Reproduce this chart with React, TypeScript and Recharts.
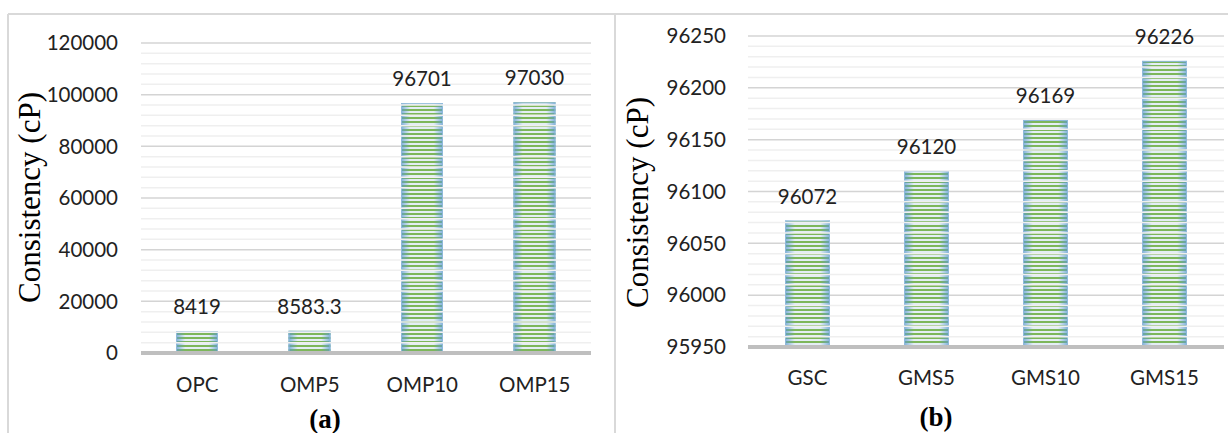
import React from 'react'
import { BarChart, Bar, XAxis, YAxis, CartesianGrid, ReferenceLine, LabelList } from 'recharts'

// panel (a)
const leftCategories = ['OPC', 'OMP5', 'OMP10', 'OMP15']
const leftValues = [8419, 8583.3, 96701, 97030]
const leftTicks = [0, 20000, 40000, 60000, 80000, 100000, 120000]

// panel (b)
const rightCategories = ['GSC', 'GMS5', 'GMS10', 'GMS15']
const rightValues = [96072, 96120, 96169, 96226]
const rightTicks = [95950, 96000, 96050, 96100, 96150, 96200, 96250]

const FONT = 'Lato, "Open Sans", sans-serif'
const SERIF = '"Liberation Serif", "Times New Roman", serif'

// light grid lines between the labelled ones (Excel minor gridlines)
const minorLines = (ticks: number[], parts: number) => {
  const out: number[] = []
  for (let i = 0; i < ticks.length - 1; i++) {
    const step = (ticks[i + 1] - ticks[i]) / parts
    for (let k = 1; k < parts; k++) out.push(ticks[i] + step * k)
  }
  return out
}

const makeStripedBar = (id: string) => (props: any) => {
  const { x, y, width, height } = props
  if (!height || height <= 0) return <g />
  return (
    <g>
      <rect x={x} y={y} width={width} height={height} fill={`url(#${id}-stripes)`} />
      <rect x={x} y={y} width={width} height={height} fill={`url(#${id}-edge)`} />
      <rect x={x + 0.5} y={y + 0.5} width={width - 1} height={height - 1} fill="none" stroke="#8fb9da" strokeWidth={1} />
    </g>
  )
}

type PanelProps = {
  id: string
  categories: string[]
  values: number[]
  ticks: number[]
  minorParts: number
  width: number
  yAxisWidth: number
  tickMargin: number
  xTickMargin: number
  barSize: number
  margin: { top: number; right: number; bottom: number; left: number }
}

function Panel(p: PanelProps) {
  const data = p.categories.map((name, i) => ({ name, value: p.values[i] }))
  const minors = minorLines(p.ticks, p.minorParts)
  const Shape = makeStripedBar(p.id)
  return (
    <BarChart width={p.width} height={433} data={data} margin={p.margin} barSize={p.barSize}>
      <defs>
        <pattern id={`${p.id}-stripes`} patternUnits="userSpaceOnUse" width={4} height={4}>
          <rect x={0} y={0} width={4} height={4} fill="#e4eef5" />
          <rect x={0} y={1} width={4} height={2} fill="#7db75a" />
        </pattern>
        <linearGradient id={`${p.id}-edge`} x1="0" y1="0" x2="1" y2="0">
          <stop offset="0%" stopColor="#5d9bcf" stopOpacity={0.75} />
          <stop offset="22%" stopColor="#5d9bcf" stopOpacity={0} />
          <stop offset="78%" stopColor="#5d9bcf" stopOpacity={0} />
          <stop offset="100%" stopColor="#5d9bcf" stopOpacity={0.75} />
        </linearGradient>
      </defs>
      <CartesianGrid vertical={false} stroke="#d4d4d4" strokeWidth={1.5} />
      {minors.map((v) => (
        <ReferenceLine key={v} y={v} stroke="#efefef" strokeWidth={1.5} />
      ))}
      <XAxis
        dataKey="name"
        height={30}
        tickLine={false}
        tickSize={0}
        tickMargin={p.xTickMargin}
        axisLine={{ stroke: '#bfbfbf', strokeWidth: 4 }}
        tick={{ fill: '#222', fontSize: 20.5, fontFamily: FONT }}
      />
      <YAxis
        width={p.yAxisWidth}
        domain={[p.ticks[0], p.ticks[p.ticks.length - 1]]}
        ticks={p.ticks}
        interval={0}
        allowDataOverflow
        axisLine={false}
        tickLine={false}
        tickSize={0}
        tickMargin={p.tickMargin}
        tick={{ fill: '#222', fontSize: 20.5, fontFamily: FONT }}
      />
      <Bar dataKey="value" shape={Shape} isAnimationActive={false}>
        <LabelList dataKey="value" position="top" offset={17} fill="#222" fontSize={20.5} fontFamily={FONT} />
      </Bar>
    </BarChart>
  )
}

export default function App() {
  return (
    <div style={{ position: 'absolute', left: 0, top: 0, width: 1228, height: 433, background: '#fff', overflow: 'hidden' }}>
      <div style={{ position: 'absolute', left: 0, top: 0 }}>
        <Panel
          id="pa"
          categories={leftCategories}
          values={leftValues}
          ticks={leftTicks}
          minorParts={5}
          width={600}
          yAxisWidth={141}
          tickMargin={23}
          xTickMargin={24}
          barSize={42}
          margin={{ top: 43, right: 9, bottom: 50, left: 0 }}
        />
      </div>
      <div style={{ position: 'absolute', left: 600, top: 0 }}>
        <Panel
          id="pb"
          categories={rightCategories}
          values={rightValues}
          ticks={rightTicks}
          minorParts={5}
          width={628}
          yAxisWidth={148}
          tickMargin={22}
          xTickMargin={23}
          barSize={45}
          margin={{ top: 36, right: 4, bottom: 56, left: 0 }}
        />
      </div>
      <svg width={1228} height={433} style={{ position: 'absolute', left: 0, top: 0, pointerEvents: 'none' }}>
        <line x1={8} y1={14} x2={1228} y2={14} stroke="#d9d9d9" strokeWidth={2} />
        <line x1={8} y1={14} x2={8} y2={433} stroke="#d9d9d9" strokeWidth={2} />
        <line x1={615} y1={14} x2={615} y2={433} stroke="#d9d9d9" strokeWidth={2} />
        <text x={40} y={197.5} transform="rotate(-90 40 197.5)" textAnchor="middle" fontFamily={SERIF} fontSize={31} fill="#000">
          Consistency (cP)
        </text>
        <text x={648} y={202.5} transform="rotate(-90 648 202.5)" textAnchor="middle" fontFamily={SERIF} fontSize={31} fill="#000">
          Consistency (cP)
        </text>
        <text x={325} y={428} textAnchor="middle" fontFamily={SERIF} fontWeight="bold" fontSize={27} fill="#000">(a)</text>
        <text x={936} y={426} textAnchor="middle" fontFamily={SERIF} fontWeight="bold" fontSize={27} fill="#000">(b)</text>
      </svg>
    </div>
  )
}
